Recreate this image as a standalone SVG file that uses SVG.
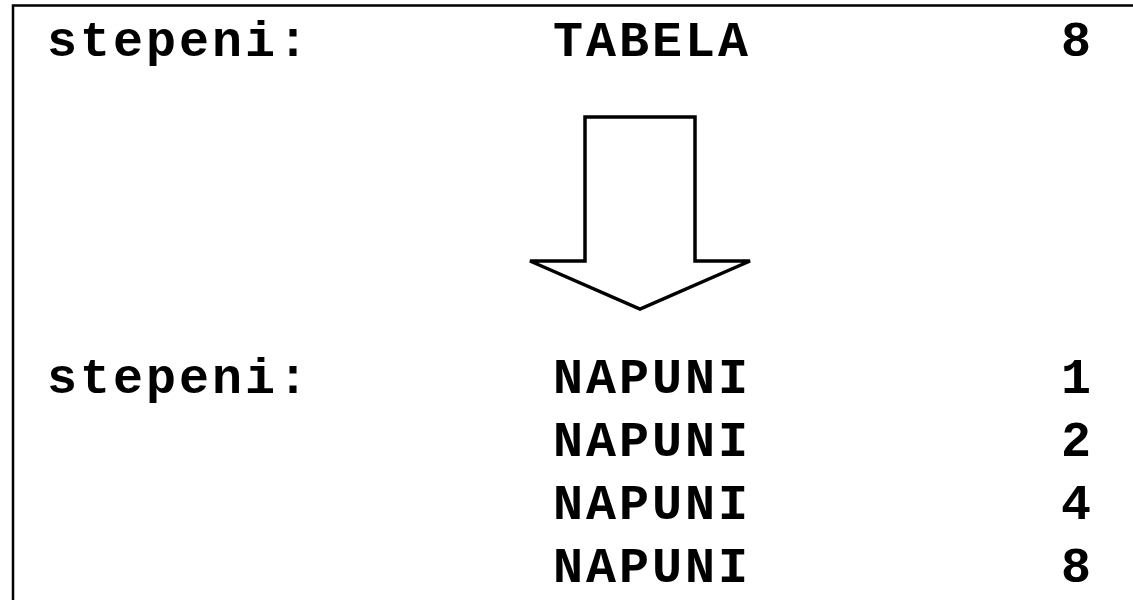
<svg xmlns="http://www.w3.org/2000/svg" width="1133" height="600" viewBox="0 0 1133 600">
<style>
.t{font-family:"Liberation Mono","Courier New",monospace;font-weight:bold;font-size:50px;letter-spacing:3px;fill:#000}
.frame{fill:none;stroke:#000;stroke-width:2.5}
.arrow{fill:#fff;stroke:#000;stroke-width:3.5;stroke-linejoin:miter}
</style>
<rect width="1133" height="600" fill="#fff"/>
<g id="frame"><polyline class="frame" points="13,600 13,5.5 1133,5.5"/></g>
<g id="top-row">
<text class="t" x="47" y="56">stepeni:</text>
<text class="t" x="553" y="56">TABELA</text>
<text class="t" x="1061" y="56">8</text>
</g>
<g id="connectors">
<polygon class="arrow" points="585,117 695,117 695,261 750,261 640,309 530,261 585,261"/>
</g>
<g id="bottom-rows">
<text class="t" x="47" y="393">stepeni:</text>
<text class="t" x="553" y="393">NAPUNI</text>
<text class="t" x="1061" y="393">1</text>
<text class="t" x="553" y="456">NAPUNI</text>
<text class="t" x="1061" y="456">2</text>
<text class="t" x="553" y="519">NAPUNI</text>
<text class="t" x="1061" y="519">4</text>
<text class="t" x="553" y="582">NAPUNI</text>
<text class="t" x="1061" y="582">8</text>
</g>
</svg>
